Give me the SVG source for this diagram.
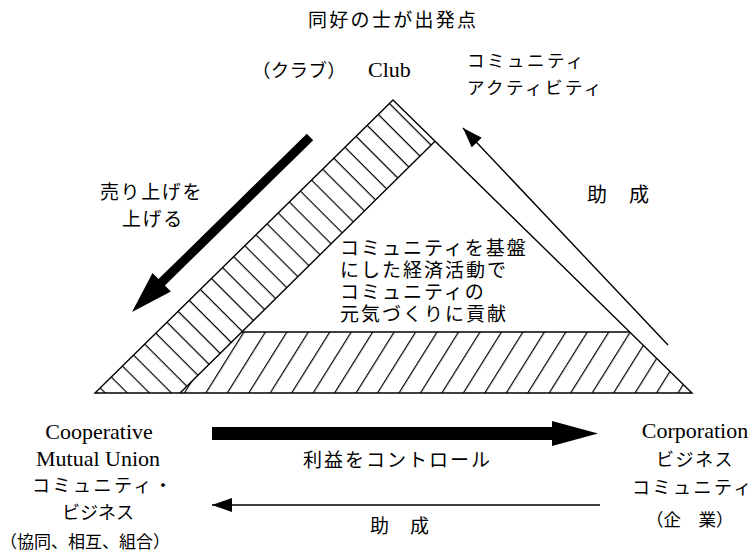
<svg xmlns="http://www.w3.org/2000/svg" width="755" height="558" viewBox="0 0 755 558">
<style>
.jp{font-family:"Noto Sans CJK JP","Liberation Serif",sans-serif;fill:#000}
.en{font-family:"Liberation Serif",serif;fill:#000}
.ln{stroke:#000;fill:none;stroke-width:1.4}
.hat{stroke:#000;stroke-width:1.2}
</style>
<defs>
<pattern id="hatchBand" patternUnits="userSpaceOnUse" width="20" height="15.6" patternTransform="rotate(45)">
<line class="hat" x1="0" y1="0.6" x2="20" y2="0.6"/>
</pattern>
<pattern id="hatchBase" patternUnits="userSpaceOnUse" width="20" height="18.2" patternTransform="rotate(-58)">
<line class="hat" x1="0" y1="0.6" x2="20" y2="0.6"/>
</pattern>
<marker id="thinHead" viewBox="0 0 20 14" refX="20" refY="7" markerWidth="20" markerHeight="14" markerUnits="userSpaceOnUse" orient="auto">
<path d="M0,0 L20,7 L0,14 Z" fill="#000"/>
</marker>
</defs>

<g id="triangle">
<polygon points="95,393 393,100 435,141.2 180,393" fill="url(#hatchBand)"/>
<polygon points="180,393 241.7,332 629.7,332 692,393" fill="url(#hatchBase)"/>
<polygon class="ln" points="393,100 692,393 95,393"/>
<line class="ln" x1="180" y1="393" x2="435" y2="141.2"/>
<line class="ln" x1="241.7" y1="332" x2="629.7" y2="332"/>
</g>

<g id="connectors">
<polygon points="313.2,140.2 164.9,285.5 170.9,291.5 132,312 152.5,273.1 158.5,279.1 306.8,133.8" fill="#000"/>
<line class="ln" x1="668" y1="345" x2="463" y2="128" marker-end="url(#thinHead)"/>
<polygon points="212,427 552,427 552,421 598,433.5 552,446 552,440 212,440" fill="#000"/>
<line class="ln" x1="600" y1="505" x2="212" y2="505" marker-end="url(#thinHead)"/>
</g>

<g id="title">
<text class="jp" x="308" y="27" font-size="19" letter-spacing="2.3">同好の士が出発点</text>
</g>
<g id="club">
<text class="jp" x="252" y="77" font-size="18.5" letter-spacing="0.3">（クラブ）</text>
<text class="en" x="368" y="77" font-size="22">Club</text>
</g>
<g id="community-activity">
<text class="jp" x="467" y="67" font-size="17.5" letter-spacing="2.5">コミュニティ</text>
<text class="jp" x="467" y="94" font-size="17.5" letter-spacing="2.5">アクティビティ</text>
</g>
<g id="sales-label">
<text class="jp" x="100" y="199" font-size="19" letter-spacing="1.6">売り上げを</text>
<text class="jp" x="122" y="226" font-size="19" letter-spacing="1.6">上げる</text>
</g>
<g id="subsidy-right">
<text class="jp" x="587" y="202" font-size="20" letter-spacing="1">助　成</text>
</g>
<g id="center-text">
<text class="jp" x="340" y="255" font-size="19" letter-spacing="2">コミュニティを基盤</text>
<text class="jp" x="340" y="277" font-size="19" letter-spacing="2">にした経済活動で</text>
<text class="jp" x="340" y="299" font-size="19" letter-spacing="2">コミュニティの</text>
<text class="jp" x="340" y="321" font-size="19" letter-spacing="2">元気づくりに貢献</text>
</g>
<g id="cooperative">
<text class="en" x="99" y="439" font-size="22" text-anchor="middle">Cooperative</text>
<text class="en" x="98" y="466" font-size="22" text-anchor="middle">Mutual  Union</text>
<text class="jp" x="32" y="492" font-size="18" letter-spacing="2.5">コミュニティ・</text>
<text class="jp" x="62" y="519" font-size="18" letter-spacing="0">ビジネス</text>
<text class="jp" x="0" y="548" font-size="17">（協同、相互、組合）</text>
</g>
<g id="corporation">
<text class="en" x="695" y="438" font-size="22" text-anchor="middle">Corporation</text>
<text class="jp" x="656" y="466" font-size="18" letter-spacing="1.5">ビジネス</text>
<text class="jp" x="632" y="494" font-size="18" letter-spacing="2.5">コミュニティ</text>
<text class="jp" x="646" y="526" font-size="17.5">（企　業）</text>
</g>
<g id="control-label">
<text class="jp" x="303" y="467" font-size="19" letter-spacing="2">利益をコントロール</text>
</g>
<g id="subsidy-bottom">
<text class="jp" x="370" y="533" font-size="19" letter-spacing="1">助　成</text>
</g>
</svg>
